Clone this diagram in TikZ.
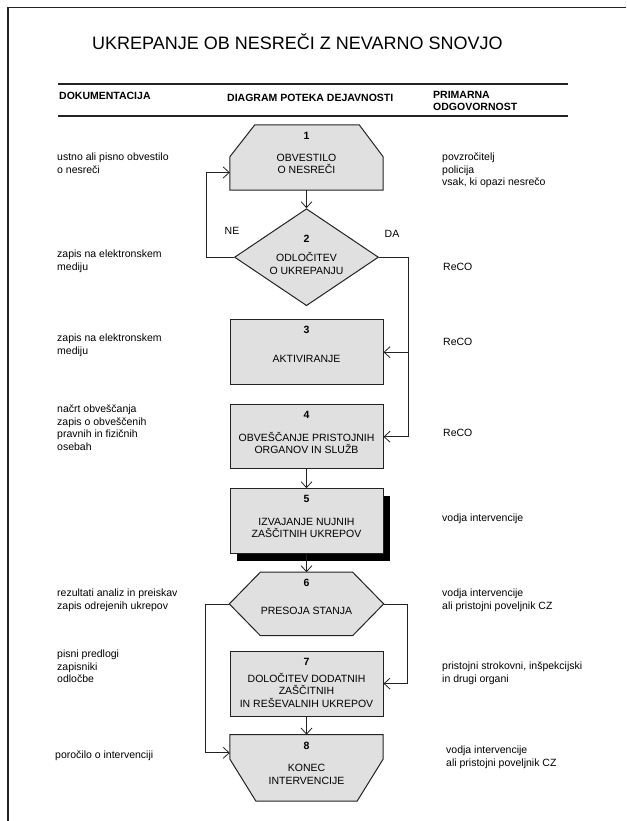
\documentclass[tikz,border=0pt]{standalone}
\usepackage{fontspec}
\setmainfont{Liberation Sans}
\usetikzlibrary{positioning,shapes.geometric,arrows.meta,shadows,backgrounds}

\definecolor{stepgray}{RGB}{224,224,224}
\definecolor{ink}{RGB}{35,35,35}

\begin{document}
\begin{tikzpicture}[
  x=1pt, y=-1pt,
  font=\fontsize{10.5}{12.5}\selectfont,
  stepbox/.style={draw=ink, line width=1pt, fill=stepgray, minimum width=153pt, minimum height=65pt, inner sep=0pt},
  stepframe/.style={minimum width=153pt, minimum height=65pt, inner sep=0pt},
  decision/.style={diamond, aspect=1.5, draw=ink, line width=1pt, fill=stepgray, minimum width=144pt, minimum height=97pt, inner sep=0pt},
  outline/.style={draw=ink, line width=1pt, fill=stepgray},
  num/.style={anchor=north, yshift=-7pt, inner sep=0pt, font=\bfseries\fontsize{10.5}{12.5}\selectfont},
  body/.style={align=center, yshift=-6.5pt, inner sep=0pt},
  doc/.style={anchor=north west, align=left, inner sep=0pt},
  colhead/.style={anchor=north west, align=left, inner sep=0pt, font=\bfseries\fontsize{10.5}{12}\selectfont},
  headrule/.style={draw=ink, line width=1.2pt},
  flow/.style={draw=ink, line width=0.8pt, -{Straight Barb[length=6pt,width=11pt]}}
]
  \useasboundingbox (0,0) rectangle (626,821);

  % frame and title
  \draw[ink, line width=1.2pt] (8,821) -- (8,7.5) -- (626,7.5);
  \node[anchor=base west, inner sep=0pt, font=\fontsize{18}{21}\selectfont] (title) at (92,50) {UKREPANJE OB NESREČI Z NEVARNO SNOVJO};

  % column heads
  \draw[headrule] (58,84) -- (568,84);
  \draw[headrule] (58,116) -- (568,116);
  \node[colhead] (h1) at (59,92) {DOKUMENTACIJA};
  \node[colhead] (h2) at (227,94) {DIAGRAM POTEKA DEJAVNOSTI};
  \node[colhead] (h3) at (433,91) {PRIMARNA\\ODGOVORNOST};

  % flow
  \node[stepframe, label={[num]north:1}, label={[body]center:{OBVESTILO\\O NESREČI}}] (s1) at (306.5,157.5) {};
  \node[decision, below=18pt of s1, label={[num, yshift=-20pt]north:2}, label={[body]center:{ODLOČITEV\\O UKREPANJU}}] (s2) {};
  \node[stepbox, below=13pt of s2, label={[num]north:3}, label={[body]center:AKTIVIRANJE}] (s3) {};
  \node[stepbox, below=19pt of s3, minimum height=64pt, label={[num]north:4}, label={[body]center:{OBVEŠČANJE PRISTOJNIH\\ORGANOV IN SLUŽB}}] (s4) {};
  \node[stepbox, below=19pt of s4, drop shadow={shadow xshift=7pt, shadow yshift=-7pt, fill=black, opacity=1}, label={[num]north:5}, label={[body]center:{IZVAJANJE NUJNIH\\ZAŠČITNIH UKREPOV}}] (s5) {};
  \node[stepframe, below=18pt of s5, minimum width=154pt, minimum height=63pt, label={[num]north:6}, label={[body]center:PRESOJA STANJA}] (s6) {};
  \node[stepbox, below=15pt of s6, label={[num]north:7}, label={[body]center:{DOLOČITEV DODATNIH\\ZAŠČITNIH\\IN REŠEVALNIH UKREPOV}}] (s7) {};
  \node[stepframe, below=18pt of s7, minimum height=66pt, label={[num]north:8}, label={[body]center:{KONEC\\INTERVENCIJE}}] (s8) {};

  \begin{scope}[on background layer]
    \draw[outline] (s1.south west) -- (s1.south east) -- ([yshift=-32pt]s1.north east)
      -- ([xshift=-24pt]s1.north east) -- ([xshift=25pt]s1.north west) -- ([yshift=-32pt]s1.north west) -- cycle;
    \draw[outline] (s6.west) -- ([xshift=31pt]s6.north west) -- ([xshift=-31pt]s6.north east)
      -- (s6.east) -- ([xshift=-31pt]s6.south east) -- ([xshift=31pt]s6.south west) -- cycle;
    \draw[outline] (s8.north west) -- (s8.north east) -- ([yshift=42pt]s8.south east)
      -- ([xshift=-26pt]s8.south east) -- ([xshift=26pt]s8.south west) -- ([yshift=42pt]s8.south west) -- cycle;
  \end{scope}

  \draw[flow] (s1) -- (s2);
  \draw[flow] (s2.west) -- ++(-28pt,0) |- ([yshift=-15pt]s1.west);
  \draw[flow] (s2.east) -- ++(29pt,0) |- (s3.east);
  \draw[flow] (s2.east) ++(29pt,0) |- (s4.east);
  \draw[flow] (s4) -- (s5);
  \draw[flow] (s5) -- (s6);
  \draw[flow] (s6.west) -- ++(-24pt,0) |- ([yshift=15pt]s8.west);
  \draw[flow] (s6.east) -- ++(24pt,0) |- (s7.east);
  \draw[flow] (s7) -- (s8);
  \node (ne) at (232,231) {NE};
  \node (da) at (392,234) {DA};

  % documentation
  \node[doc] (d1) at (57,153) {ustno ali pisno obvestilo\\o nesreči};
  \node[doc] (d2) at (57,250) {zapis na elektronskem\\mediju};
  \node[doc] (d3) at (57,334) {zapis na elektronskem\\mediju};
  \node[doc] (d4) at (57,405) {načrt obveščanja\\zapis o obveščenih\\pravnih in fizičnih\\osebah};
  \node[doc] (d5) at (57,589) {rezultati analiz in preiskav\\zapis odrejenih ukrepov};
  \node[doc] (d6) at (57,650) {pisni predlogi\\zapisniki\\odločbe};
  \node[doc] (d7) at (55,751) {poročilo o intervenciji};

  % responsibility
  \node[doc] (r1) at (442,153) {povzročitelj\\policija\\vsak, ki opazi nesrečo};
  \node[doc] (r2) at (443,263) {ReCO};
  \node[doc] (r3) at (443,338) {ReCO};
  \node[doc] (r4) at (443,429) {ReCO};
  \node[doc] (r5) at (442,514) {vodja intervencije};
  \node[doc] (r6) at (442,589) {vodja intervencije\\ali pristojni poveljnik CZ};
  \node[doc] (r7) at (442,662) {pristojni strokovni, inšpekcijski\\in drugi organi};
  \node[doc] (r8) at (446,746) {vodja intervencije\\ali pristojni poveljnik CZ};
\end{tikzpicture}
\end{document}
